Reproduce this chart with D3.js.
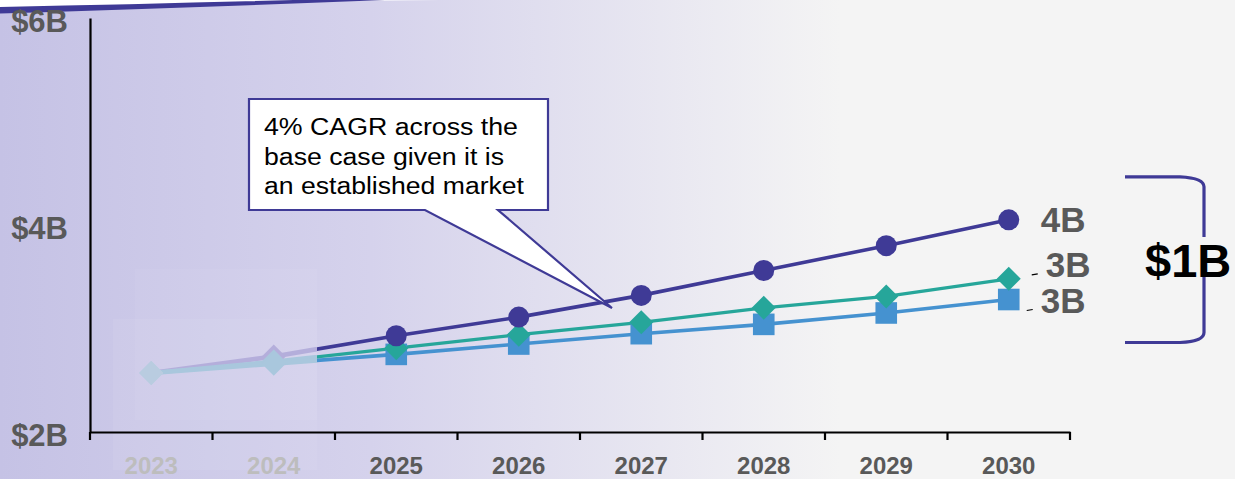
<!DOCTYPE html>
<html>
<head>
<meta charset="utf-8">
<script src="https://cdn.jsdelivr.net/npm/d3@7"></script>
<style>
  html, body { margin: 0; padding: 0; background: #f4f4f4; }
  svg { display: block; }
  text { font-family: "Liberation Sans", Arial, sans-serif; }
</style>
</head>
<body>
<svg id="chart" width="1235" height="479"></svg>
<script>
// ---- data ----
const years = ["2023", "2024", "2025", "2026", "2027", "2028", "2029", "2030"];
const historicalYears = ["2023", "2024"];
const highCase = [2.57, 2.73, 2.93, 3.11, 3.32, 3.56, 3.80, 4.05];
const baseCase = [2.57, 2.68, 2.81, 2.94, 3.06, 3.20, 3.31, 3.48];
const lowCase  = [2.57, 2.66, 2.75, 2.85, 2.95, 3.04, 3.15, 3.28];
const yTicks = [2, 4, 6];
const calloutLines = ["4% CAGR across the", "base case given it is", "an established market"];

// ---- layout ----
const W = 1235, H = 479;
const svg = d3.select("#chart");
const x = d3.scaleBand().domain(years).range([90, 1070]).padding(0);
const y = d3.scaleLinear().domain([2, 6]).range([432, 18]);
const cx = d => x(d) + x.bandwidth() / 2;
const forecastEdge = 317; // where the projected (solid) lines begin

const series = [
  { name: "high", values: highCase, color: "#3f3a96", faded: "#b4aedb", shape: "circle", width: 3.6, labelDx: 32, labelDy: 0, leader: false },
  { name: "base", values: baseCase, color: "#26a69a", faded: "#a9c7dd", shape: "diamond", width: 3.2, labelDx: 37, labelDy: -14, leader: true },
  { name: "low",  values: lowCase,  color: "#4592d0", faded: "#a9c7dd", shape: "square", width: 3.6, labelDx: 32, labelDy: 1, leader: true }
];

// ---- background ----
const defs = svg.append("defs");
const bg = defs.append("linearGradient").attr("id", "bg").attr("x1", 0).attr("x2", 1).attr("y1", 0).attr("y2", 0);
bg.append("stop").attr("offset", 0).attr("stop-color", "#c5c2e5");
bg.append("stop").attr("offset", 0.3).attr("stop-color", "#d5d2ec");
bg.append("stop").attr("offset", 0.68).attr("stop-color", "#f4f4f4");
bg.append("stop").attr("offset", 1).attr("stop-color", "#f4f4f4");
svg.append("rect").attr("width", W).attr("height", H).attr("fill", "url(#bg)");

// decorative swoosh at the top-left corner
svg.append("path").attr("d", "M0,0 L0,8 Q200,2 440,0 Z").attr("fill", "#ffffff");
svg.append("path")
  .attr("d", "M0,7 Q170,3.5 330,-1 L410,-1 Q210,7 0,13.5 Z")
  .attr("fill", "#3f3a96");

// soft panels behind the historical years
const histX0 = x(historicalYears[0]);
svg.append("rect").attr("x", histX0 + 23).attr("y", 319).attr("width", forecastEdge - histX0 - 23).attr("height", 151)
  .attr("fill", "#ffffff").attr("opacity", 0.06);
svg.append("rect").attr("x", histX0 + 45).attr("y", 269).attr("width", forecastEdge - histX0 - 45).attr("height", 151)
  .attr("fill", "#ffffff").attr("opacity", 0.05);

// ---- clips separating history from projection ----
defs.append("clipPath").attr("id", "hist").append("rect").attr("x", 0).attr("y", 0).attr("width", forecastEdge).attr("height", H);
defs.append("clipPath").attr("id", "proj").append("rect").attr("x", forecastEdge).attr("y", 0).attr("width", W - forecastEdge).attr("height", H);

// ---- axes ----
const yAxis = svg.append("g").attr("transform", `translate(${x.range()[0]},0)`)
  .call(d3.axisLeft(y).tickValues(yTicks).tickSize(0).tickPadding(22).tickFormat(d => `$${d}B`));
yAxis.select(".domain").attr("stroke", "#000").attr("stroke-width", 2.2);
yAxis.selectAll("text")
  .attr("font-family", "Liberation Sans, Arial, sans-serif")
  .attr("font-size", 31).attr("font-weight", "bold").attr("fill", "#595959")
  .attr("dy", "0.42em");

const xAxis = svg.append("g").attr("transform", `translate(0,${y(2)})`)
  .call(d3.axisBottom(x).tickSize(0).tickPadding(25));
xAxis.select(".domain").attr("stroke", "#000").attr("stroke-width", 2.2);
xAxis.selectAll("text")
  .attr("font-family", "Liberation Sans, Arial, sans-serif")
  .attr("font-size", 24).attr("font-weight", "bold")
  .attr("fill", d => historicalYears.includes(d) ? "#bdbdbd" : "#595959");

// tick marks on the category boundaries
const bounds = years.map(d => x(d)).concat([x.range()[1]]);
svg.append("g").selectAll("line").data(bounds).join("line")
  .attr("x1", d => d).attr("x2", d => d)
  .attr("y1", y(2)).attr("y2", y(2) + 8)
  .attr("stroke", "#000").attr("stroke-width", 2.2);

// ---- lines ----
const line = d3.line().x((v, i) => cx(years[i])).y(v => y(v));

function marker(g, s, color, shapeOverride) {
  const shape = shapeOverride || s.shape;
  if (shape === "circle") {
    g.append("circle").attr("r", 10.5).attr("fill", color);
  } else if (shape === "diamond") {
    g.append("path").attr("d", "M0,-12 L12,0 L0,12 L-12,0 Z").attr("fill", color);
  } else {
    g.append("rect").attr("x", -10.8).attr("y", -10.8).attr("width", 21.6).attr("height", 21.6).attr("fill", color);
  }
}

// draw lower series first so the top one sits above
const order = [series[2], series[1], series[0]];

// historical (faded) part
const hist = svg.append("g").attr("clip-path", "url(#hist)");
series.forEach(s => {
  hist.append("path").datum(s.values).attr("d", line)
    .attr("fill", "none").attr("stroke", s.faded).attr("stroke-width", s.width + 1)
    .attr("stroke-linejoin", "round");
});
series.forEach(s => {
  historicalYears.forEach(yr => {
    const i = years.indexOf(yr);
    const g = hist.append("g").attr("transform", `translate(${cx(yr)},${y(s.values[i])})`);
    marker(g, s, i === 0 ? "#b9cce0" : s.faded, "diamond");
  });
});

// projected part
const proj = svg.append("g").attr("clip-path", "url(#proj)");
order.forEach(s => {
  proj.append("path").datum(s.values).attr("d", line)
    .attr("fill", "none").attr("stroke", s.color).attr("stroke-width", s.width)
    .attr("stroke-linejoin", "round");
});
order.forEach(s => {
  years.forEach((yr, i) => {
    if (historicalYears.includes(yr)) return;
    const g = proj.append("g").attr("transform", `translate(${cx(yr)},${y(s.values[i])})`);
    marker(g, s, s.color);
  });
});

// ---- end-of-line value labels ----
const last = years.length - 1;
const lastX = cx(years[last]);
series.forEach(s => {
  const v = s.values[last];
  const ly = y(v) + s.labelDy;
  svg.append("text")
    .attr("x", lastX + s.labelDx).attr("y", ly)
    .attr("dy", "0.36em")
    .attr("font-size", 35).attr("font-weight", "bold").attr("fill", "#595959")
    .text(`${Math.round(v)}B`);
  if (s.leader) {
    svg.append("line")
      .attr("x1", lastX + s.labelDx - 14).attr("x2", lastX + s.labelDx - 8)
      .attr("y1", ly + 10).attr("y2", ly + 9)
      .attr("stroke", "#000").attr("stroke-width", 1.2);
  }
});

// ---- bracket showing the spread in 2030 ----
const topV = d3.max(series, s => s.values[last]);
const botV = d3.min(series, s => s.values[last]);
const bx = 1204, bTop = y(topV) - 43, bBot = y(botV) + 43;
svg.append("path")
  .attr("d", `M1125,${bTop} L1180,${bTop} Q${bx},${bTop + 1} ${bx},${bTop + 10} L${bx},${bBot - 10} Q${bx},${bBot - 1} 1180,${bBot} L1125,${bBot}`)
  .attr("fill", "none").attr("stroke", "#3f3a96").attr("stroke-width", 3.2);
svg.append("rect").attr("x", 1102).attr("y", 237).attr("width", W - 1102).attr("height", 24).attr("fill", "#f4f4f4");
svg.append("text")
  .attr("x", 1145).attr("y", 277)
  .attr("font-size", 47).attr("font-weight", "bold").attr("fill", "#000")
  .text(`$${Math.round(topV - botV)}B`);

// ---- callout ----
const box = { x: 249, y: 99, w: 299, h: 111 };
const tip = [612, 308];
const callout = svg.append("g");
callout.append("path")
  .attr("d", `M${box.x},${box.y} H${box.x + box.w} V${box.y + box.h} H498 L${tip[0]},${tip[1]} L425,${box.y + box.h} H${box.x} Z`)
  .attr("fill", "#ffffff").attr("stroke", "#3f3a96").attr("stroke-width", 2.2).attr("stroke-linejoin", "miter");
const lineWidths = [254, 240, 260];
calloutLines.forEach((t, i) => {
  callout.append("text")
    .attr("x", 264).attr("y", 135 + i * 29.5)
    .attr("font-size", 23.5).attr("fill", "#000")
    .attr("textLength", lineWidths[i]).attr("lengthAdjust", "spacingAndGlyphs")
    .text(t);
});
</script>
</body>
</html>
